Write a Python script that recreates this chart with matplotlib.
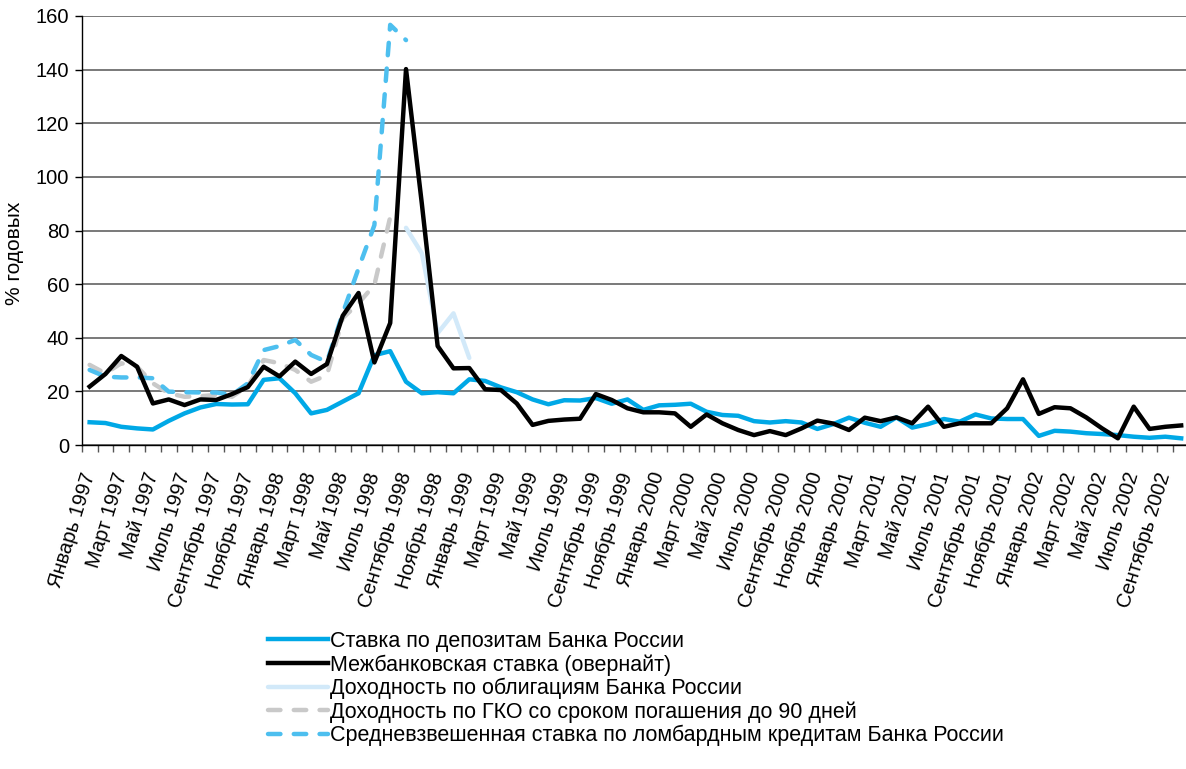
import numpy as np
import matplotlib.pyplot as plt
from matplotlib.ticker import FixedLocator

plt.rcParams['font.family'] = ['Liberation Sans', 'DejaVu Sans']

# categories: monthly, January 1997 - October 2002
month_names = ['Январь', 'Февраль', 'Март', 'Апрель', 'Май', 'Июнь', 'Июль',
               'Август', 'Сентябрь', 'Октябрь', 'Ноябрь', 'Декабрь']
years = [1997, 1998, 1999, 2000, 2001, 2002]
months = [f'{m} {y}' for y in years for m in month_names][:70]

# Ставка по депозитам Банка России
deposit = [8.5, 8.2, 6.8, 6.2, 5.8, 9.0, 11.8, 14.0, 15.3, 15.1,
           15.2, 24.3, 24.9, 19.3, 11.8, 13.1, 16.2, 19.3, 33.5, 35.0,
           23.6, 19.3, 19.7, 19.3, 24.5, 23.9, 21.5, 19.7, 17.0, 15.2,
           16.7, 16.6, 17.5, 15.4, 17.0, 13.1, 14.8, 15.0, 15.4, 12.4,
           11.2, 10.9, 8.9, 8.4, 8.9, 8.4, 6.0, 7.8, 10.2, 8.3,
           6.8, 10.3, 6.5, 7.8, 9.7, 8.7, 11.4, 9.9, 9.7, 9.7,
           3.4, 5.3, 5.0, 4.4, 4.1, 3.7, 3.1, 2.7, 3.1, 2.5]

# Межбанковская ставка (овернайт)
interbank = [21.8, 26.5, 33.2, 29.2, 15.5, 17.0, 14.9, 17.0, 16.8, 19.0,
             21.6, 29.2, 25.6, 31.1, 26.5, 30.2, 48.2, 56.7, 30.8, 45.5,
             140.2, 90.0, 36.9, 28.6, 28.7, 20.8, 20.5, 15.5, 7.5, 9.0,
             9.5, 9.8, 19.0, 16.8, 13.7, 12.2, 12.2, 11.8, 6.8, 11.4,
             8.1, 5.6, 3.7, 5.2, 3.7, 6.2, 9.1, 8.0, 5.6, 10.2,
             8.9, 10.3, 8.1, 14.3, 6.8, 8.1, 8.1, 8.1, 13.7, 24.5,
             11.6, 14.1, 13.7, 10.3, 6.2, 2.5, 14.3, 6.0, 6.8, 7.3]

# Доходность по облигациям Банка России (Sep 1998 - Jan 1999)
bonds_start = 20
bonds = [81.0, 71.5, 41.7, 49.1, 32.5]

# Доходность по ГКО со сроком погашения до 90 дней (Jan 1997 - Aug 1998)
gko_start = 0
gko = [29.9, 26.7, 30.5, 29.2, 23.0, 19.3, 18.0, 18.2, 18.7, 18.0,
       22.0, 31.7, 30.5, 28.0, 23.6, 26.0, 47.3, 52.9, 59.7, 85.0]

# Средневзвешенная ставка по ломбардным кредитам Банка России (Jan 1997 - Sep 1998)
lombard_start = 0
lombard = [28.0, 25.5, 25.2, 25.2, 24.9, 19.9, 19.7, 19.6, 19.6, 18.7,
           23.0, 35.4, 36.9, 39.2, 33.6, 31.0, 49.1, 65.9, 82.0, 156.7,
           151.0]

labels = ['Ставка по депозитам Банка России',
          'Межбанковская ставка (овернайт)',
          'Доходность по облигациям Банка России',
          'Доходность по ГКО со сроком погашения до 90 дней',
          'Средневзвешенная ставка по ломбардным кредитам Банка России']

fig = plt.figure(figsize=(11.86, 7.69), dpi=100)
ax = fig.add_axes([0.0689, 0.4213, 0.9337, 0.5579])

x = np.arange(len(months))
lw = 3.2

l_bonds, = ax.plot(np.arange(bonds_start, bonds_start + len(bonds)), bonds,
                   color='#d2e9f9', lw=lw, solid_capstyle='round', zorder=2)
l_gko, = ax.plot(np.arange(gko_start, gko_start + len(gko)), gko,
                 color='#c9c9c9', lw=lw, dashes=(2.8, 3.0), dash_capstyle='round', zorder=3)
l_lomb, = ax.plot(np.arange(lombard_start, lombard_start + len(lombard)), lombard,
                  color='#4dbfef', lw=lw, dashes=(2.8, 3.0), dash_capstyle='round', zorder=4)
l_dep, = ax.plot(x, deposit, color='#00a8e6', lw=lw, solid_joinstyle='round', zorder=5)
l_ib, = ax.plot(x, interbank, color='black', lw=lw, solid_joinstyle='round', zorder=6)

ax.set_xlim(-0.5, len(months) - 0.5)
ax.set_ylim(0, 160)
ax.set_yticks(np.arange(0, 161, 20))
ax.yaxis.grid(True, color='#555555', lw=1.1)
ax.set_axisbelow(True)

ax.set_xticks(x[::2])
ax.set_xticklabels(months[::2], rotation=73, ha='right', va='center',
                   rotation_mode='anchor', fontsize=14.5)
ax.tick_params(axis='x', which='major', length=0, pad=20)
ax.xaxis.set_minor_locator(FixedLocator(np.arange(-0.5, len(months), 1)))
ax.tick_params(axis='x', which='minor', length=5, width=1, color='#555555')
ax.tick_params(axis='y', labelsize=14.5, length=5, width=1, pad=4)

for s in ['top', 'right']:
    ax.spines[s].set_visible(False)
for s in ['left', 'bottom']:
    ax.spines[s].set_color('black')
    ax.spines[s].set_linewidth(1)

ax.set_ylabel('% годовых', fontsize=15)
ax.yaxis.set_label_coords(-0.052, 0.447)

fig.legend([l_dep, l_ib, l_bonds, l_gko, l_lomb], labels,
           loc='upper left', bbox_to_anchor=(268 / 1186, 1 - 631 / 769),
           frameon=False, fontsize=15.5, handlelength=2.8, handletextpad=0.1,
           labelspacing=0.1, borderpad=0, borderaxespad=0)

fig.savefig('out.png', dpi=100)
